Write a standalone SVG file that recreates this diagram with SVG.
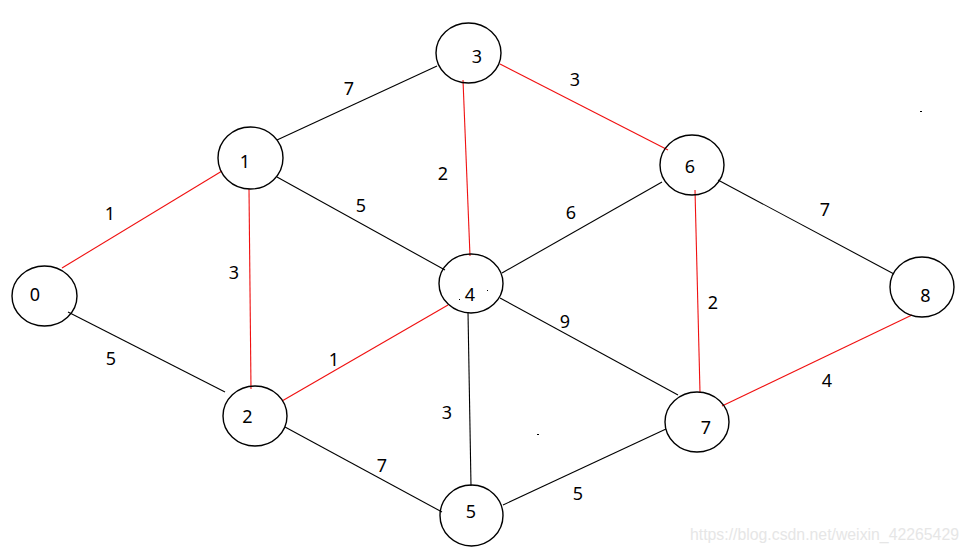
<svg xmlns="http://www.w3.org/2000/svg" width="970" height="551" viewBox="0 0 970 551">
<style>
.node{fill:none;stroke:#000;stroke-width:1.4}
.lbl{font-family:"Noto Sans","Liberation Sans",sans-serif;font-size:18px;fill:#000;text-anchor:middle}
.e{stroke:#000;stroke-width:1.1;fill:none}
.r{stroke:#f01010;stroke-width:1.1;fill:none}
.w{font-family:"Noto Sans","Liberation Sans",sans-serif;font-size:18px;fill:#000;text-anchor:middle}
.wm{font-family:"Liberation Sans",Arial,sans-serif;font-size:16px;fill:#e6e6e6}
</style>
<rect width="970" height="551" fill="#fff"/>
<g id="edges">
<line class="r" x1="62" y1="268" x2="222" y2="171"/>
<line class="e" x1="68" y1="312" x2="225" y2="392"/>
<line class="e" x1="277" y1="140" x2="437" y2="66"/>
<line class="e" x1="277" y1="177" x2="445" y2="270"/>
<line class="r" x1="249" y1="189" x2="251" y2="389"/>
<line class="r" x1="282" y1="401" x2="448" y2="305"/>
<line class="r" x1="463" y1="80" x2="470" y2="256"/>
<line class="r" x1="500" y1="64" x2="668" y2="150"/>
<line class="e" x1="502" y1="273" x2="662" y2="182"/>
<line class="e" x1="718" y1="180" x2="894" y2="274"/>
<line class="r" x1="695" y1="190" x2="700" y2="392"/>
<line class="r" x1="722" y1="406" x2="912" y2="315"/>
<line class="e" x1="500" y1="298" x2="678" y2="395"/>
<line class="e" x1="468" y1="312" x2="471" y2="486"/>
<line class="e" x1="285" y1="427" x2="442" y2="512"/>
<line class="e" x1="503" y1="505" x2="666" y2="429"/>
</g>
<g id="weights">
<text class="w" x="110" y="219.5">1</text>
<text class="w" x="111" y="364.5">5</text>
<text class="w" x="349" y="94.5">7</text>
<text class="w" x="361" y="211.5">5</text>
<text class="w" x="234" y="278.5">3</text>
<text class="w" x="443" y="179.5">2</text>
<text class="w" x="575" y="85.5">3</text>
<text class="w" x="571" y="218.5">6</text>
<text class="w" x="334" y="365.5">1</text>
<text class="w" x="565" y="327.5">9</text>
<text class="w" x="447" y="418.5">3</text>
<text class="w" x="382" y="471.5">7</text>
<text class="w" x="578" y="499.5">5</text>
<text class="w" x="713" y="308.5">2</text>
<text class="w" x="825" y="215.5">7</text>
<text class="w" x="827" y="386.5">4</text>
</g>
<g id="n0"><ellipse class="node" cx="44.5" cy="296" rx="32.5" ry="30"/><text class="lbl" x="35" y="301">0</text></g>
<g id="n1"><ellipse class="node" cx="250.5" cy="158" rx="32.5" ry="31"/><text class="lbl" x="245" y="168">1</text></g>
<g id="n2"><ellipse class="node" cx="255" cy="416" rx="32" ry="30"/><text class="lbl" x="247.5" y="423">2</text></g>
<g id="n3"><ellipse class="node" cx="468.5" cy="53" rx="32.5" ry="30"/><text class="lbl" x="477" y="63">3</text></g>
<g id="n4"><ellipse class="node" cx="471" cy="283.5" rx="32" ry="29.5"/><text class="lbl" x="470" y="301">4</text></g>
<g id="n5"><ellipse class="node" cx="471.5" cy="515.5" rx="31.5" ry="30.5"/><text class="lbl" x="471" y="518">5</text></g>
<g id="n6"><ellipse class="node" cx="692" cy="165" rx="32" ry="30"/><text class="lbl" x="690" y="172.5">6</text></g>
<g id="n7"><ellipse class="node" cx="697" cy="422" rx="32" ry="30"/><text class="lbl" x="706" y="434">7</text></g>
<g id="n8"><ellipse class="node" cx="922" cy="287" rx="32" ry="30"/><text class="lbl" x="925.5" y="302">8</text></g>
<g id="specks" fill="#000">
<rect x="920" y="111" width="2" height="1"/>
<rect x="537" y="434" width="2" height="1"/>
<rect x="459" y="299" width="1" height="1"/>
<rect x="487" y="290" width="1" height="1"/>
</g>
<text class="wm" x="690" y="540" textLength="269" lengthAdjust="spacingAndGlyphs">https://blog.csdn.net/weixin_42265429</text>
</svg>
